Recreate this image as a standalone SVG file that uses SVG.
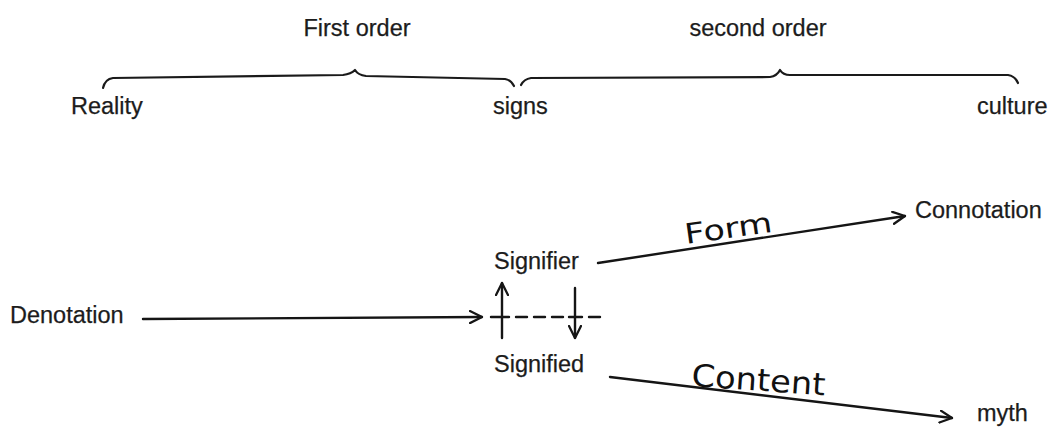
<svg xmlns="http://www.w3.org/2000/svg" width="1049" height="429" viewBox="0 0 1049 429">
  <style>
    .lbl { font-family: "Liberation Sans", Arial, sans-serif; font-size: 23.5px; fill: #1c1c1c; stroke: #1c1c1c; stroke-width: 0.25; }
    .hand { font-family: "DejaVu Sans", "Liberation Sans", sans-serif; fill: #111; }
    .ln { fill: none; stroke: #151515; stroke-width: 2.4; stroke-linecap: round; stroke-linejoin: round; }
    .brace { fill: none; stroke: #1a1a1a; stroke-width: 2.2; stroke-linecap: round; stroke-linejoin: round; }
  </style>
  <defs>
    <marker id="chev" viewBox="0 0 14 14" refX="13" refY="7" markerWidth="14" markerHeight="14" markerUnits="userSpaceOnUse" orient="auto">
      <path d="M1,1 L13,7 L1,13" fill="none" stroke="#151515" stroke-width="2.3" stroke-linecap="round" stroke-linejoin="round"/>
    </marker>
  </defs>
  <rect width="1049" height="429" fill="#ffffff"/>

  <!-- order headings -->
  <g id="first-order"><text class="lbl" x="357" y="36" text-anchor="middle">First order</text></g>
  <g id="second-order"><text class="lbl" x="758" y="36" text-anchor="middle">second order</text></g>

  <!-- braces spanning the scale -->
  <g id="braces">
    <path class="brace" d="M103,88 Q105,79 113,78 L343,75 Q351,74 355,70 Q358,75 366,76 L505,79 Q511,80 514,86"/>
    <path class="brace" d="M521,85 Q524,79 531,78 L770,77 Q777,76 780,70 Q783,75 790,75 L1008,75 Q1015,76 1018,83"/>
  </g>

  <!-- scale end points -->
  <g id="reality"><text class="lbl" x="71" y="114">Reality</text></g>
  <g id="signs"><text class="lbl" x="493" y="114">signs</text></g>
  <g id="culture"><text class="lbl" x="977" y="114">culture</text></g>

  <!-- sign components and outcomes -->
  <g id="denotation"><text class="lbl" x="10" y="323">Denotation</text></g>
  <g id="signifier"><text class="lbl" x="494" y="269">Signifier</text></g>
  <g id="signified"><text class="lbl" x="494" y="372">Signified</text></g>
  <g id="connotation"><text class="lbl" x="915" y="218">Connotation</text></g>
  <g id="myth"><text class="lbl" x="977" y="421">myth</text></g>

  <!-- connectors -->
  <g id="connectors">
    <!-- Denotation into the sign -->
    <path class="ln" d="M143,319 L482,317" marker-end="url(#chev)"/>
    <!-- signifier / signified exchange -->
    <path class="ln" d="M502,338 L502,283" marker-end="url(#chev)"/>
    <path class="ln" d="M575,288 L575,338" marker-end="url(#chev)"/>
    <path class="ln" d="M491,317 L509,317 M516,317 L527,317 M534,317 L545,317 M552,317 L563,317 M569,317 L582,317 M589,317 L600,317"/>
    <!-- Form: signifier to connotation -->
    <path class="ln" d="M598,263 L905,216" marker-end="url(#chev)"/>
    <!-- Content: signified to myth -->
    <path class="ln" d="M610,377 L952,418" marker-end="url(#chev)"/>
    <text class="hand" x="686" y="244" font-size="28" textLength="88" lengthAdjust="spacingAndGlyphs" transform="rotate(-8 686 244)">Form</text>
    <text class="hand" x="691" y="386" font-size="31" textLength="134" lengthAdjust="spacingAndGlyphs" transform="rotate(4 691 386)">Content</text>
  </g>
</svg>
